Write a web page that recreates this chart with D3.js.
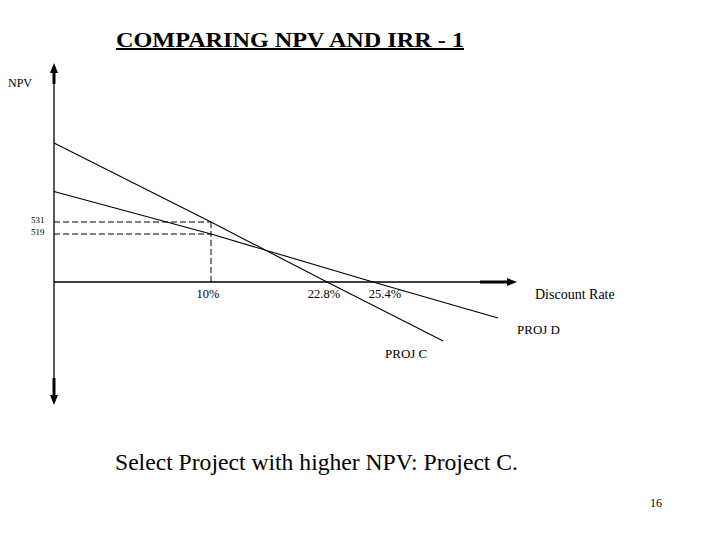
<!DOCTYPE html>
<html>
<head>
<meta charset="utf-8">
<script src="https://cdn.jsdelivr.net/npm/d3@7"></script>
<style>
  body { margin: 0; background: #fff; }
  text { font-family: "Liberation Serif", "Times New Roman", serif; fill: #000; }
</style>
</head>
<body>
<div class="chart"></div>
<script>
// Comparing NPV and IRR - schematic chart (not drawn to scale)
var rates = [0, 10, 22.8, 25.4, 40];        // discount rate breakpoints (%)
var npvBreaks = [-700, 0, 519, 531, 1100];  // NPV breakpoints

var projC = [[0, 1100], [10, 531], [22.8, 0], [33.6, -656]];
var projD = [[0, 750], [10, 519], [25.4, 0], [40, -400]];

var rateTicks = ["10%", "22.8%", "25.4%"];
var rateTickVals = [10, 22.8, 25.4];
var npvTicks = [531, 519];

var svgWidth = 720;
var svgHeight = 540;

var svg = d3.select(".chart")
    .append("svg")
    .attr("width", svgWidth)
    .attr("height", svgHeight);

// piecewise scales, the original sketch is schematic
var xScale = d3.scaleLinear().domain(rates).range([54, 211, 327, 373, 498]);
var yScale = d3.scaleLinear().domain(npvBreaks).range([345, 282, 234, 222, 143]);

// title
svg.append("text")
    .attr("x", 116)
    .attr("y", 47)
    .attr("font-size", 20)
    .attr("font-weight", "bold")
    .attr("text-decoration", "underline")
    .attr("textLength", 348)
    .attr("lengthAdjust", "spacingAndGlyphs")
    .text("COMPARING NPV AND IRR - 1");

svg.append("text")
    .attr("x", 8)
    .attr("y", 87)
    .attr("font-size", 12)
    .text("NPV");

var x0 = xScale(0);
var y0 = yScale(0);

// vertical axis with arrows on both ends
svg.append("line")
    .attr("x1", x0).attr("x2", x0)
    .attr("y1", 66).attr("y2", 402)
    .attr("stroke", "#000").attr("stroke-width", 1.3);
svg.append("line")
    .attr("x1", x0).attr("x2", x0)
    .attr("y1", 70).attr("y2", 84)
    .attr("stroke", "#000").attr("stroke-width", 3);
svg.append("line")
    .attr("x1", x0).attr("x2", x0)
    .attr("y1", 378).attr("y2", 398)
    .attr("stroke", "#000").attr("stroke-width", 3);
svg.append("path")
    .attr("d", "M" + (x0 - 4) + ",73L" + x0 + ",63L" + (x0 + 4) + ",73Z")
    .attr("fill", "#000");
svg.append("path")
    .attr("d", "M" + (x0 - 4) + ",395L" + x0 + ",405L" + (x0 + 4) + ",395Z")
    .attr("fill", "#000");

// horizontal axis
svg.append("line")
    .attr("x1", x0).attr("x2", 512)
    .attr("y1", y0).attr("y2", y0)
    .attr("stroke", "#000").attr("stroke-width", 1.3);
svg.append("line")
    .attr("x1", 480).attr("x2", 508)
    .attr("y1", y0).attr("y2", y0)
    .attr("stroke", "#000").attr("stroke-width", 3);
svg.append("path")
    .attr("d", "M507," + (y0 - 4) + "L517," + y0 + "L507," + (y0 + 4) + "Z")
    .attr("fill", "#000");

svg.append("text")
    .attr("x", 535)
    .attr("y", 299)
    .attr("font-size", 14)
    .text("Discount Rate");

// dashed guides at 10%
var x10 = xScale(10);
npvTicks.forEach(function(v) {
    svg.append("line")
        .attr("x1", x0).attr("x2", x10)
        .attr("y1", yScale(v)).attr("y2", yScale(v))
        .attr("stroke", "#000").attr("stroke-width", 1)
        .attr("stroke-dasharray", "6,3");
    svg.append("text")
        .attr("x", 31)
        .attr("y", yScale(v) + 1)
        .attr("font-size", 9)
        .text(v);
});
svg.append("line")
    .attr("x1", x10).attr("x2", x10)
    .attr("y1", yScale(531)).attr("y2", y0)
    .attr("stroke", "#000").attr("stroke-width", 1)
    .attr("stroke-dasharray", "6,3");

// rate labels under the axis
rateTickVals.forEach(function(v, i) {
    svg.append("text")
        .attr("x", xScale(v) + (i == 2 ? 12 : -3))
        .attr("y", 298)
        .attr("font-size", 12.5)
        .attr("text-anchor", "middle")
        .text(rateTicks[i]);
});

// project lines
var line = d3.line()
    .x(function(d) { return xScale(d[0]); })
    .y(function(d) { return yScale(d[1]); });

svg.append("path")
    .datum(projC)
    .attr("d", line)
    .attr("fill", "none")
    .attr("stroke", "#000")
    .attr("stroke-width", 1.1);

svg.append("path")
    .datum(projD)
    .attr("d", line)
    .attr("fill", "none")
    .attr("stroke", "#000")
    .attr("stroke-width", 1.1);

svg.append("text")
    .attr("x", 517)
    .attr("y", 334)
    .attr("font-size", 13)
    .text("PROJ D");

svg.append("text")
    .attr("x", 385)
    .attr("y", 358)
    .attr("font-size", 13)
    .text("PROJ C");

svg.append("text")
    .attr("x", 115)
    .attr("y", 470)
    .attr("font-size", 24)
    .attr("textLength", 403)
    .attr("lengthAdjust", "spacingAndGlyphs")
    .text("Select Project with higher NPV: Project C.");

svg.append("text")
    .attr("x", 650)
    .attr("y", 507)
    .attr("font-size", 12)
    .text("16");
</script>
</body>
</html>
